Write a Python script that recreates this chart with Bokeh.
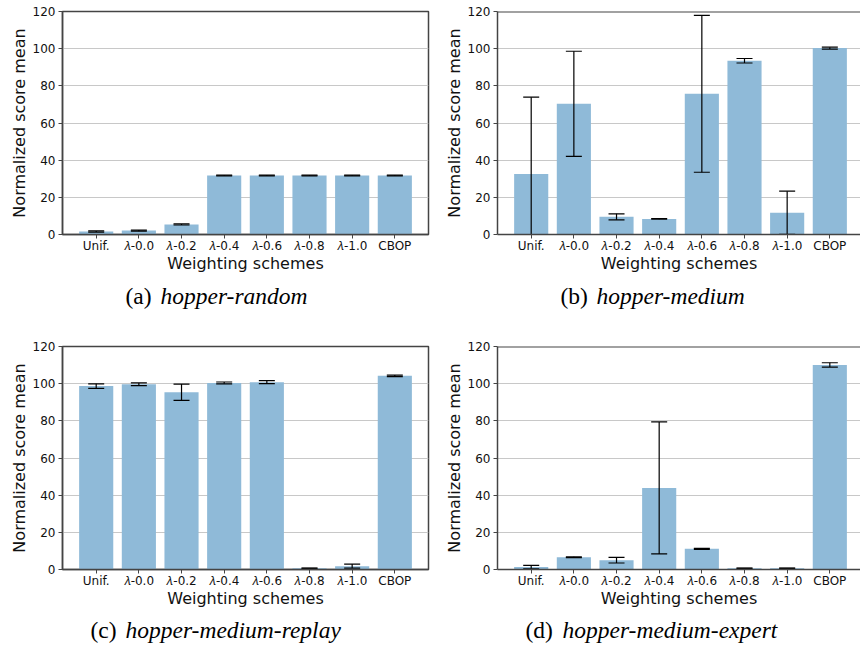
import numpy as np
from bokeh.plotting import figure
from bokeh.layouts import column, row
from bokeh.models import FixedTicker, Span, Range1d
from bokeh.core.properties import value
from bokeh.embed import file_html
from bokeh.resources import INLINE

categories = ["Unif.", "𝜆-0.0", "𝜆-0.2", "𝜆-0.4", "𝜆-0.6", "𝜆-0.8", "𝜆-1.0", "CBOP"]
y_ticks = [0, 20, 40, 60, 80, 100, 120]

random_mean = [1.6, 2.1, 5.4, 31.7, 31.7, 31.7, 31.7, 31.7]
random_err = [0.3, 0.3, 0.3, 0.2, 0.2, 0.2, 0.2, 0.2]

medium_mean = [32.6, 70.3, 9.5, 8.4, 75.7, 93.5, 11.7, 100.3]
medium_err = [41.3, 28.3, 1.6, 0.2, 42.2, 1.2, 11.6, 0.5]

replay_mean = [98.7, 99.7, 95.4, 100.4, 100.8, 0.7, 1.8, 104.2]
replay_err = [1.2, 0.7, 4.4, 0.5, 0.8, 0.1, 1.1, 0.45]

expert_mean = [1.3, 6.6, 5.0, 43.9, 11.1, 0.7, 0.7, 110.1]
expert_err = [0.95, 0.2, 1.5, 35.5, 0.3, 0.1, 0.1, 1.15]

captions = [("(a)", "hopper-random"), ("(b)", "hopper-medium"),
            ("(c)", "hopper-medium-replay"), ("(d)", "hopper-medium-expert")]

BAR = "#8fbad8"
FRAME = "#444444"
TXT = "#111111"
PPU = 42.66  # pixels per category unit


def make_panel(mean, err, fig_w, fig_h, left, right, top, bottom, full_frame):
    frame_w = fig_w - left - right
    x0 = -0.79
    x1 = x0 + frame_w / PPU
    p = figure(width=fig_w, height=fig_h, output_backend="svg",
               toolbar_location=None, tools="",
               x_range=Range1d(x0, x1), y_range=Range1d(0, 120),
               min_border_left=left, min_border_right=right,
               min_border_top=top, min_border_bottom=bottom)
    p.background_fill_color = "white"
    p.border_fill_color = "white"
    xs = np.arange(len(categories))
    m = np.array(mean)
    e = np.array(err)
    p.vbar(x=xs, top=m, width=0.8, bottom=0, fill_color=BAR, line_color=None)
    p.segment(x0=xs, y0=m - e, x1=xs, y1=m + e, line_color="black", line_width=1.2)
    p.dash(x=xs, y=m + e, size=16, line_color="black", line_width=1.2)
    p.dash(x=xs, y=m - e, size=16, line_color="black", line_width=1.2)

    p.xgrid.visible = False
    p.ygrid.ticker = FixedTicker(ticks=y_ticks)
    p.ygrid.grid_line_color = "#c8c8c8"
    p.ygrid.grid_line_width = 1

    p.xaxis.ticker = FixedTicker(ticks=list(range(len(categories))))
    p.xaxis.major_label_overrides = {i: c for i, c in enumerate(categories)}
    p.yaxis.ticker = FixedTicker(ticks=y_ticks)
    p.xaxis.axis_label = "Weighting schemes"
    p.yaxis.axis_label = "Normalized score mean"
    for ax in (p.xaxis[0], p.yaxis[0]):
        ax.axis_label_text_font = "DejaVu Sans"
        ax.axis_label_text_font_style = "normal"
        ax.axis_label_text_font_size = "16px"
        ax.axis_label_text_color = TXT
        ax.major_label_text_font = "DejaVu Sans"
        ax.major_label_text_font_size = "12px"
        ax.major_label_text_color = TXT
        ax.axis_line_color = FRAME
        ax.axis_line_width = 1.5
        ax.major_tick_line_color = FRAME
        ax.major_tick_in = 0
        ax.major_tick_out = 4
        ax.minor_tick_line_color = None
    p.xaxis.major_label_standoff = 0
    p.xaxis.axis_label_standoff = -2
    p.yaxis.major_label_standoff = 3
    p.yaxis.axis_label_standoff = 1

    if full_frame:
        p.outline_line_color = FRAME
        p.outline_line_width = 1.5
    else:
        p.outline_line_color = None
        p.add_layout(Span(location=120, dimension="width",
                          line_color=FRAME, line_width=1.8))
    return p


def make_caption(cap, fig_w, fig_h, baseline, lx, ix):
    c = figure(width=fig_w, height=fig_h, output_backend="svg",
               toolbar_location=None, tools="",
               x_range=Range1d(0, fig_w), y_range=Range1d(fig_h, 0),
               min_border=0, min_border_left=0, min_border_right=0,
               min_border_top=0, min_border_bottom=0)
    c.axis.visible = False
    c.grid.visible = False
    c.outline_line_color = None
    c.background_fill_color = "white"
    c.border_fill_color = "white"
    c.text(x=[lx], y=[baseline], text=[cap[0]], text_font=value("Liberation Serif"),
           text_font_size="23.5px", text_align="left", text_baseline="alphabetic",
           text_color="black")
    c.text(x=[ix], y=[baseline], text=[cap[1]], text_font=value("Liberation Serif"),
           text_font_style="italic", text_font_size="23.5px", text_align="left",
           text_baseline="alphabetic", text_color="black")
    return c


pa = make_panel(random_mean, random_err, 430, 280, 62, 2, 11, 46, True)
pb = make_panel(medium_mean, medium_err, 430, 280, 67, 0, 11, 46, False)
pc = make_panel(replay_mean, replay_err, 430, 280, 62, 2, 11, 46, True)
pd = make_panel(expert_mean, expert_err, 430, 280, 67, 0, 11, 46, False)

ca = make_caption(captions[0], 430, 55, 15, 125, 160)
cb = make_caption(captions[1], 430, 55, 15, 130, 166)
cc = make_caption(captions[2], 430, 30, 14, 90, 125)
cd = make_caption(captions[3], 430, 30, 14, 95, 132)

layout = column(row(pa, pb, spacing=0), row(ca, cb, spacing=0),
                row(pc, pd, spacing=0), row(cc, cd, spacing=0), spacing=0)
open("out.html", "w").write(file_html(layout, INLINE))
